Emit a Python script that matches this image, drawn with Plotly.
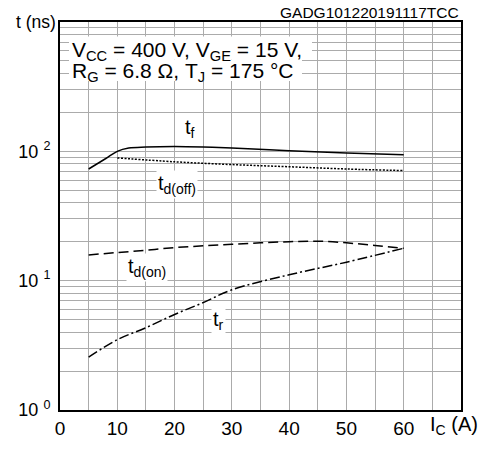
import numpy as np
import plotly.graph_objects as go

# Data
ic_f = [5, 8, 10, 12, 15, 20, 25, 30, 40, 50, 60]
t_f = [73, 88, 100, 106, 108, 109, 108, 106, 101, 97, 94]

ic_off = [10, 20, 30, 40, 50, 60]
t_off = [89, 83, 79, 76, 73, 71]

ic_on = [5, 10, 15, 20, 25, 30, 35, 40, 45, 50, 55, 60]
t_on = [15.8, 16.5, 17.2, 18.0, 18.6, 19.1, 19.6, 20.0, 20.2, 19.6, 18.7, 17.8]

ic_r = [5, 10, 15, 20, 25, 30, 40, 50, 60]
t_r = [2.56, 3.5, 4.33, 5.48, 6.77, 8.5, 11.1, 13.9, 17.8]

x_ticks = [0, 10, 20, 30, 40, 50, 60]
y_ticks = [1, 10, 100]
y_ticktext = ["10 <sup>0</sup>", "10 <sup>1</sup>", "10 <sup>2</sup>"]
y_minor = [m * 10 ** d for d in range(3) for m in range(2, 10)]

FONT = "Liberation Sans, Arial, sans-serif"
GRID = "#ababab"

fig = go.Figure()
line_w = 1.5
fig.add_trace(go.Scatter(x=ic_f, y=t_f, mode="lines", line=dict(color="black", width=line_w, dash="solid"), line_shape="spline"))
fig.add_trace(go.Scatter(x=ic_off, y=t_off, mode="lines", line=dict(color="black", width=line_w, dash="2px,1.5px"), line_shape="spline"))
fig.add_trace(go.Scatter(x=ic_on, y=t_on, mode="lines", line=dict(color="black", width=line_w, dash="10px,5px"), line_shape="spline"))
fig.add_trace(go.Scatter(x=ic_r, y=t_r, mode="lines", line=dict(color="black", width=line_w, dash="10px,3px,2px,3px"), line_shape="spline"))

PLOT_L, PLOT_R, PLOT_T, PLOT_B = 60, 461, 22, 423
def px_to_paper_x(px):
    return (px - PLOT_L) / (PLOT_R - PLOT_L)
def px_to_paper_y(py):
    return (PLOT_B - py) / (PLOT_B - PLOT_T)

fig.update_layout(
    width=485, height=451,
    margin=dict(l=60, r=24, t=22, b=28),
    paper_bgcolor="white", plot_bgcolor="white",
    showlegend=False,
    font=dict(family=FONT, size=18, color="black"),
    xaxis=dict(
        range=[0, 70], tickvals=x_ticks, showgrid=True, gridcolor=GRID, gridwidth=1.2,
        minor=dict(dtick=5, showgrid=True, gridcolor=GRID, gridwidth=1.2),
        showline=True, linecolor="black", linewidth=2, mirror=True,
        ticks="", zeroline=False, tickfont=dict(size=19),
    ),
    yaxis=dict(
        type="log", range=[0, 3], tickvals=y_ticks, ticktext=y_ticktext,
        showgrid=True, gridcolor=GRID, gridwidth=1.2,
        minor=dict(tickvals=y_minor, showgrid=True, gridcolor=GRID, gridwidth=1.2, ticks=""),
        showline=True, linecolor="black", linewidth=2, mirror=True,
        ticks="", zeroline=False, tickfont=dict(size=18), ticklabelstandoff=4,
    ),
)

# white backgrounds behind the two condition lines
for (x0, x1, y0, y1) in [(69, 312, 37, 61), (69, 302, 61, 83)]:
    fig.add_shape(type="rect", xref="paper", yref="paper",
                  x0=px_to_paper_x(x0), x1=px_to_paper_x(x1),
                  y0=px_to_paper_y(y1), y1=px_to_paper_y(y0),
                  fillcolor="white", line=dict(width=0), layer="above")

anns = [
    dict(x=1.8, y=2.772, text="V<sub>CC</sub> = 400 V, V<sub>GE</sub> = 15 V,", xanchor="left", size=21, bg=None),
    dict(x=1.8, y=2.613, text="R<sub>G</sub> = 6.8 Ω, T<sub>J</sub> = 175 °C", xanchor="left", size=21, bg=None),
    dict(x=22.7, y=2.175, text="t<sub>f</sub>", xanchor="center", size=20, bg="white"),
    dict(x=20.4, y=1.74, text="t<sub>d(off)</sub>", xanchor="center", size=20, bg="white"),
    dict(x=15.2, y=1.105, text="t<sub>d(on)</sub>", xanchor="center", size=20, bg="white"),
    dict(x=27.6, y=0.69, text="t<sub>r</sub>", xanchor="center", size=20, bg="white"),
]
for a in anns:
    sz = a.pop("size")
    bg = a.pop("bg")
    fig.add_annotation(xref="x", yref="y", showarrow=False, bgcolor=bg if bg else "rgba(0,0,0,0)",
                       font=dict(family=FONT, size=sz, color="black"), borderpad=1, **a)

fig.add_annotation(xref="paper", yref="paper", x=-0.005, y=1.0, xanchor="right", yanchor="middle",
                   text="t (ns)", showarrow=False, font=dict(family=FONT, size=17.5, color="black"))
fig.add_annotation(xref="paper", yref="paper", x=1.0, y=1.0, xanchor="right", yanchor="bottom",
                   yshift=-1, text="GADG101220191117TCC", showarrow=False,
                   font=dict(family=FONT, size=15.5, color="black"))
fig.add_annotation(xref="x", yref="paper", x=64.3, y=0, xanchor="left", yanchor="top", yshift=-1,
                   text="I<sub>C</sub> (A)", showarrow=False, font=dict(family=FONT, size=20, color="black"))

fig.write_html("out.html")
